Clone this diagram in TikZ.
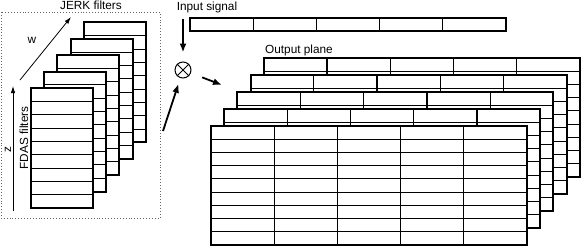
\documentclass[tikz,border=0pt]{standalone}
\usepackage{fontspec}
\setmainfont{Liberation Sans}
\usetikzlibrary{arrows.meta,positioning}
\tikzset{
  frame/.style={line width=2pt},
  rowline/.style={line width=0.9pt},
  bigarrow/.style={line width=1.8pt,-{Latex[length=9pt,width=7pt]}},
  thinarrow/.style={line width=0.8pt,-{Latex[length=7pt,width=4.5pt]}}
}

\begin{document}
\begin{tikzpicture}[x=1pt,y=-1pt,font=\fontsize{11.8}{14}\selectfont]
\useasboundingbox (0,0) rectangle (581,247);

% FDAS / JERK filter stack
\draw[dotted,line width=0.9pt,gray!80!black] (1,12) rectangle (160,218);
\foreach \i in {4,3,2,1,0}{
  \begin{scope}[shift={(13.2*\i,-16.4*\i)}]
    \fill[white] (31,88) rectangle (93,208);
    \foreach \r in {1,...,8}
      \draw[rowline] (31,88+13.33*\r) -- (93,88+13.33*\r);
    \draw[frame] (31,88) rectangle (93,208);
  \end{scope}
}
\node (jerk) at (91,5) {JERK filters};
\node (fdas) at (24,138) [rotate=90] {FDAS filters};
\node (wlab) at (32,40) {w};
\node (zlab) at (8,150) [rotate=90] {z};
\coordinate (w0) at (20,80);
\coordinate (w1) at (71,17);
\coordinate (z0) at (13,211);
\coordinate (z1) at (13,86);
\draw[thinarrow] (w0) -- (w1);
\draw[thinarrow] (z0) -- (z1);

% input signal
\node (insig) at (207,7) {Input signal};
\foreach \c in {0,...,4}
  \draw[line width=1.3pt] (190+63.2*\c,18) rectangle (253.2+63.2*\c,31);

% multiplier
\node[circle,draw,line width=1pt,minimum size=16pt,inner sep=0pt] (mul) at (183,70) {};
\draw[line width=1pt] (mul.north west) -- (mul.south east);
\draw[line width=1pt] (mul.north east) -- (mul.south west);
\coordinate (sigtop) at (183,19);
\coordinate (filtout) at (163,131);
\coordinate (toplane) at (222,85);
\draw[bigarrow,shorten >=9pt] (sigtop) -- (mul);
\draw[bigarrow,shorten >=6pt] (filtout) -- (mul);
\draw[bigarrow,shorten <=12pt] (mul) -- (toplane);

% output planes
\node (outlab) at (299,50) {Output plane};
\foreach \i in {4,3,2,1,0}{
  \begin{scope}[shift={(13.2*\i,-17*\i)}]
    \fill[white] (211,126) rectangle (527,245);
    \foreach \r in {1,...,8}
      \draw[rowline] (211,126+13.22*\r) -- (527,126+13.22*\r);
    \foreach \c in {1,...,4}
      \draw[line width=1.3pt] (211+63.2*\c,126) -- (211+63.2*\c,245);
    \draw[frame] (211,126) rectangle (527,245);
  \end{scope}
}
\end{tikzpicture}
\end{document}
